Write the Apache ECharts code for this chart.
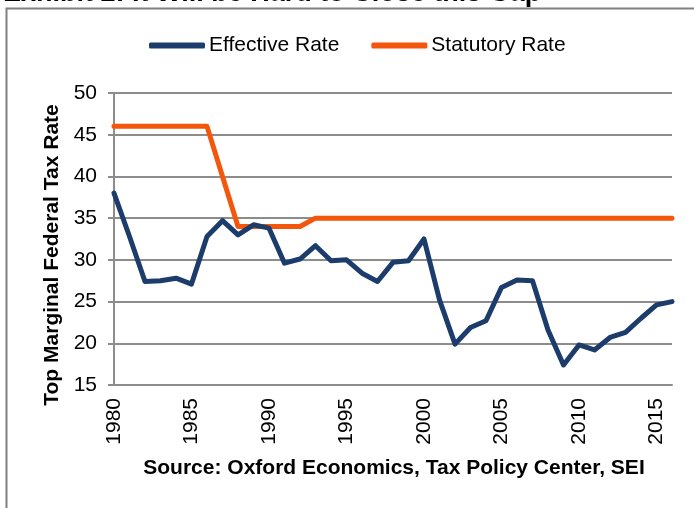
<!DOCTYPE html>
<html>
<head>
<meta charset="utf-8">
<script src="https://cdn.jsdelivr.net/npm/echarts@6/dist/echarts.min.js"></script>
<style>
  html, body { margin: 0; padding: 0; background: #fff; }
  #chart { width: 694px; height: 508px; }
</style>
</head>
<body>
<div id="chart"></div>
<script>
// years on the x axis
var years = [];
for (var y = 1980; y <= 2016; y++) years.push(String(y));

// effective rate
var effectiveRate = [
  38.0, 32.8, 27.4, 27.5, 27.8, 27.1, 32.8, 34.7, 33.0, 34.2,
  33.8, 29.6, 30.1, 31.7, 29.9, 30.0, 28.4, 27.4, 29.7, 29.9,
  32.5, 25.2, 19.9, 21.9, 22.7, 26.7, 27.6, 27.5, 21.6, 17.4,
  19.8, 19.2, 20.7, 21.3, 23.0, 24.6, 25.0
];

// statutory rate
var statutoryRate = [
  46, 46, 46, 46, 46, 46, 46, 40, 34, 34,
  34, 34, 34, 35, 35, 35, 35, 35, 35, 35,
  35, 35, 35, 35, 35, 35, 35, 35, 35, 35,
  35, 35, 35, 35, 35, 35, 35
];

var fontFamily = "'Liberation Sans', Arial, sans-serif";
var gridGray = '#8c8c8c';

var myChart = echarts.init(document.getElementById('chart'), null, { renderer: 'canvas' });

var option = {
  backgroundColor: '#fff',
  animation: false,
  textStyle: { fontFamily: fontFamily },
  graphic: [
    {
      type: 'rect',
      shape: { x: 6.5, y: 8.5, width: 800, height: 600 },
      style: { fill: 'none', stroke: '#808080', lineWidth: 2 },
      silent: true
    },
    {
      type: 'text',
      x: 3,
      y: -20,
      style: {
        text: 'Exhibit 2: It Will be Hard to Close this Gap',
        font: "bold 27px 'Liberation Sans', Arial, sans-serif",
        fill: '#000',
        verticalAlign: 'top'
      }
    },
    {
      type: 'text',
      x: 52,
      y: 255,
      rotation: Math.PI / 2,
      style: {
        text: 'Top Marginal Federal Tax Rate',
        font: "bold 21px 'Liberation Sans', Arial, sans-serif",
        fill: '#000',
        align: 'center',
        verticalAlign: 'middle'
      }
    },
    {
      type: 'text',
      x: 394,
      y: 468,
      style: {
        text: 'Source: Oxford Economics, Tax Policy Center, SEI',
        font: "bold 21px 'Liberation Sans', Arial, sans-serif",
        fill: '#000',
        align: 'center',
        verticalAlign: 'middle'
      }
    }
  ],
  legend: {
    top: 30,
    left: 144,
    itemWidth: 56,
    itemHeight: 6,
    itemGap: 32,
    icon: 'roundRect',
    textStyle: { fontSize: 21, color: '#000', fontFamily: fontFamily, padding: [0, 0, 0, -1] },
    data: ['Effective Rate', 'Statutory Rate']
  },
  grid: {
    left: 114,
    right: 22,
    top: 93,
    bottom: 123,
    containLabel: false
  },
  xAxis: {
    type: 'category',
    boundaryGap: false,
    data: years,
    axisLine: { show: true, lineStyle: { color: gridGray, width: 2 } },
    axisTick: { show: false },
    splitLine: { show: false },
    axisLabel: {
      interval: 4,
      rotate: 90,
      margin: 13,
      fontSize: 21,
      color: '#000',
      fontFamily: fontFamily
    }
  },
  yAxis: {
    type: 'value',
    min: 15,
    max: 50,
    interval: 5,
    axisLine: { show: true, lineStyle: { color: gridGray, width: 2 } },
    axisTick: { show: true, length: 6, lineStyle: { color: gridGray, width: 2 } },
    splitLine: { show: true, lineStyle: { color: gridGray, width: 2 } },
    axisLabel: {
      margin: 17,
      fontSize: 21,
      color: '#000',
      fontFamily: fontFamily
    }
  },
  series: [
    {
      name: 'Effective Rate',
      type: 'line',
      data: effectiveRate,
      showSymbol: false,
      symbol: 'none',
      color: '#1c3c6c',
      lineStyle: { width: 5, color: '#1c3c6c', cap: 'round', join: 'round' },
      z: 3
    },
    {
      name: 'Statutory Rate',
      type: 'line',
      data: statutoryRate,
      showSymbol: false,
      symbol: 'none',
      color: '#f4570c',
      lineStyle: { width: 5, color: '#f4570c', cap: 'round', join: 'round' },
      z: 2
    }
  ]
};

myChart.setOption(option);
</script>
</body>
</html>
